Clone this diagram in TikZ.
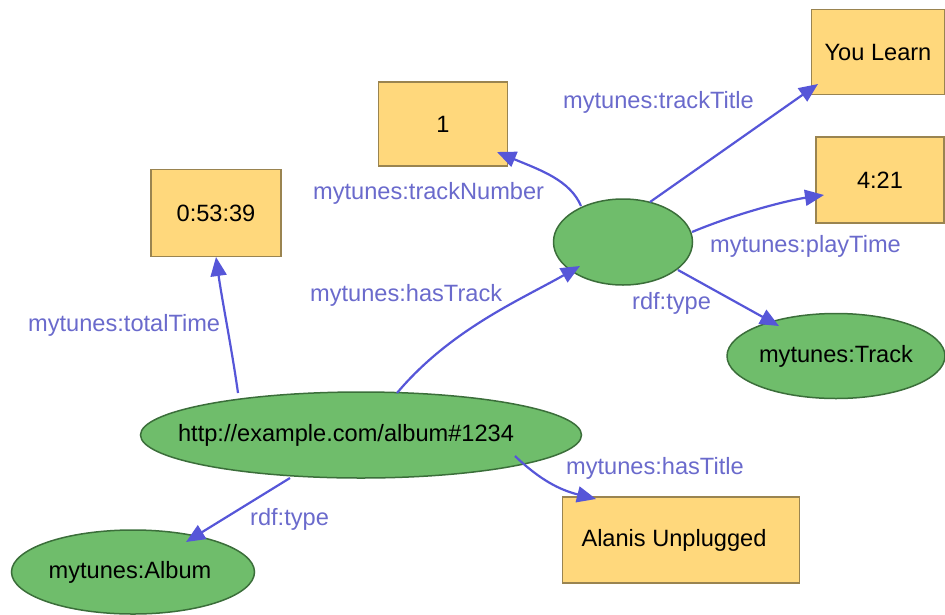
\documentclass[tikz,border=0pt]{standalone}
\usepackage{fontspec}
\setmainfont{Liberation Sans}
\usetikzlibrary{shapes.geometric,arrows.meta}
\definecolor{litfill}{HTML}{FFD87C}
\definecolor{litdraw}{HTML}{9A8450}
\definecolor{resfill}{HTML}{6FBD6B}
\definecolor{resdraw}{HTML}{3B6E3A}
\definecolor{edgecol}{HTML}{5656D8}
\definecolor{labcol}{HTML}{6A6ACC}
\tikzset{
  lit/.style={rectangle,draw=litdraw,fill=litfill,line width=1.5pt,inner sep=0pt,font=\fontsize{23.6}{26}\selectfont},
  res/.style={ellipse,draw=resdraw,fill=resfill,line width=1.5pt,inner sep=0pt,font=\fontsize{23.6}{26}\selectfont},
  rel/.style={draw=edgecol,line width=2.2pt,-{Triangle[length=19pt,width=16pt]}},
  lab/.style={text=labcol,font=\fontsize{23.6}{26}\selectfont,inner sep=0pt}
}
\newcommand{\zw}[2][0pt]{\makebox[0pt]{\hspace*{#1}#2}}
\begin{document}
\begin{tikzpicture}[x=1pt,y=-1pt]
\useasboundingbox (0,0) rectangle (945,614);
% literals
\node[lit,minimum width=133pt,minimum height=85pt] (learn) at (878,52) {You Learn};
\node[lit,minimum width=128pt,minimum height=86pt] (time) at (880,180) {4:21};
\node[lit,minimum width=129pt,minimum height=84pt] (num) at (443,124) {1};
\node[lit,minimum width=130pt,minimum height=87pt] (total) at (216,213) {0:53:39};
\node[lit,minimum width=237pt,minimum height=86pt] (title) at (681,540) {\zw[-14pt]{Alanis Unplugged}};
% resources
\node[res,minimum width=139pt,minimum height=86pt] (track) at (623,242) {};
\node[res,minimum width=218pt,minimum height=85pt] (tclass) at (836,356) {\zw{mytunes:Track}};
\node[res,minimum width=441pt,minimum height=86pt] (album) at (361,435) {\zw[-30pt]{http://example.com/album\#1234}};
\node[res,minimum width=243pt,minimum height=84pt] (aclass) at (133,572) {\zw[-6pt]{mytunes:Album}};
% edge end points
\coordinate (a1) at (238,393);
\coordinate (a2) at (397,393);
\coordinate (a3) at (515,456);
\coordinate (a4) at (290,478);
\coordinate (t1) at (581,206);
\coordinate (t2) at (650,202);
\coordinate (t3) at (692,232);
\coordinate (t4) at (678,270);
\coordinate (e1) at (216,257);
\coordinate (e2) at (580,266);
\coordinate (e3) at (596,499);
\coordinate (e4) at (186,542);
\coordinate (e5) at (497,152);
\coordinate (e6) at (818,84);
\coordinate (e7) at (824,195);
\coordinate (e8) at (779,326);
% edges
\draw[rel] (a1) .. controls (232,350) and (222,300) .. (e1);
\draw[rel] (a2) .. controls (450,330) and (520,300) .. (e2);
\draw[rel] (a3) .. controls (540,480) and (560,490) .. (e3);
\draw[rel] (a4) -- (e4);
\draw[rel] (t1) .. controls (570,180) and (540,170) .. (e5);
\draw[rel] (t2) -- (e6);
\draw[rel] (t3) .. controls (740,212) and (790,200) .. (e7);
\draw[rel] (t4) -- (e8);
% labels
\node[lab,anchor=west] (l1) at (28,325) {mytunes:totalTime};
\node[lab,anchor=west] (l2) at (310,295) {mytunes:hasTrack};
\node[lab,anchor=west] (l3) at (566,468) {mytunes:hasTitle};
\node[lab,anchor=west] (l4) at (250,519) {rdf:type};
\node[lab,anchor=west] (l5) at (313,193) {mytunes:trackNumber};
\node[lab,anchor=west] (l6) at (563,102) {mytunes:trackTitle};
\node[lab,anchor=west] (l7) at (710,246) {mytunes:playTime};
\node[lab,anchor=west] (l8) at (632,303) {rdf:type};
\end{tikzpicture}
\end{document}
